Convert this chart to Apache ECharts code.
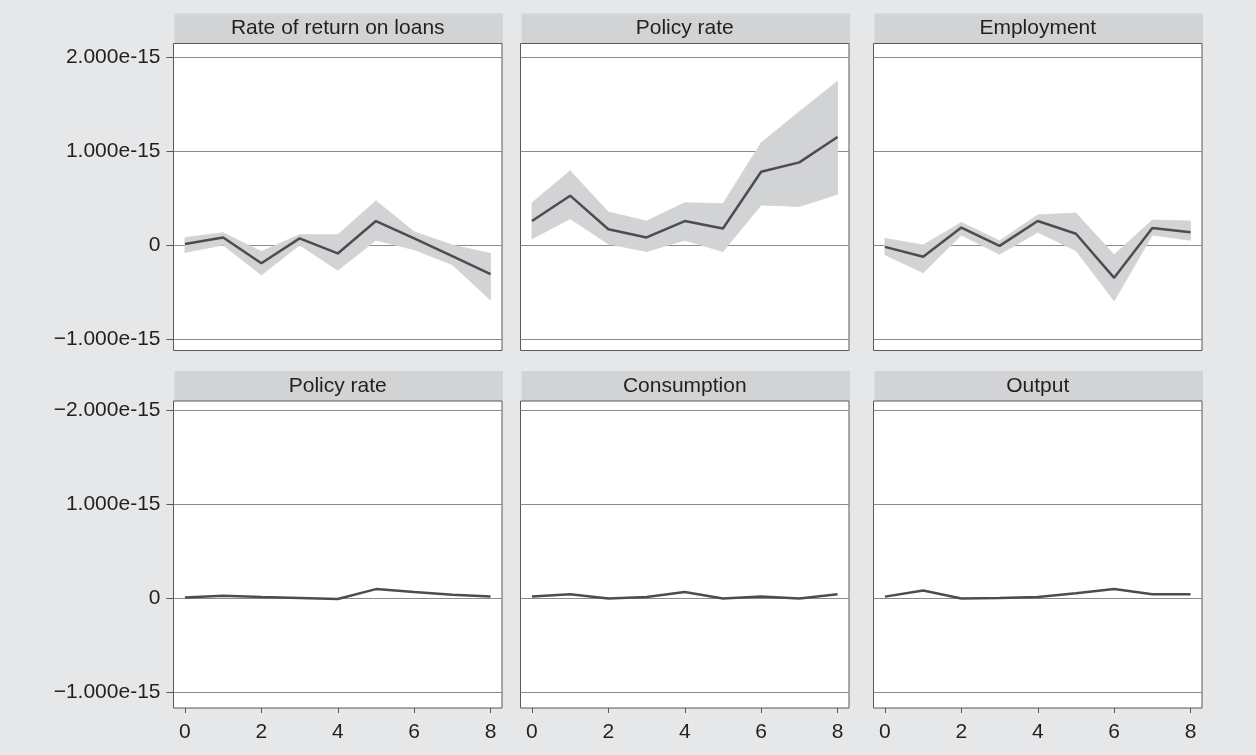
<!DOCTYPE html>
<html><head><meta charset="utf-8">
<script src="https://cdn.jsdelivr.net/npm/echarts@6/dist/echarts.min.js"></script>
<style>html,body{margin:0;padding:0;background:#e6e7e8}#c{width:1256px;height:755px}</style>
</head><body><div id="c"></div>
<script>
// ---------- DATA (values in units of 1e-15) ----------
const horizons = [0, 1, 2, 3, 4, 5, 6, 7, 8];
const panelTitles = ['Rate of return on loans', 'Policy rate', 'Employment', 'Policy rate', 'Consumption', 'Output'];
const yTickValues = [-1, 0, 1, 2];
const yTickLabelsTop = ['\u22121.000e-15', '0', '1.000e-15', '2.000e-15'];
const yTickLabelsBottom = ['\u22121.000e-15', '0', '1.000e-15', '\u22122.000e-15'];
const xTickValues = [0, 2, 4, 6, 8];

const loansMid  = [0.01, 0.08, -0.195, 0.07, -0.09, 0.255, 0.07, -0.12, -0.31];
const loansLow  = [-0.08, 0.0, -0.32, 0.0, -0.27, 0.05, -0.05, -0.21, -0.585];
const loansHigh = [0.08, 0.13, -0.07, 0.11, 0.11, 0.47, 0.14, 0.0, -0.09];

const policyMid  = [0.255, 0.525, 0.167, 0.08, 0.255, 0.175, 0.78, 0.88, 1.15];
const policyLow  = [0.065, 0.28, 0.01, -0.07, 0.05, -0.07, 0.425, 0.41, 0.54];
const policyHigh = [0.45, 0.79, 0.35, 0.255, 0.45, 0.44, 1.09, 1.42, 1.745];

const emplMid  = [-0.02, -0.125, 0.185, -0.01, 0.255, 0.12, -0.35, 0.18, 0.135];
const emplLow  = [-0.105, -0.295, 0.105, -0.1, 0.135, -0.06, -0.595, 0.105, 0.05];
const emplHigh = [0.07, 0.0, 0.24, 0.045, 0.32, 0.34, -0.105, 0.265, 0.255];

const policy2Mid     = [0.01, 0.03, 0.015, 0.005, -0.005, 0.10, 0.068, 0.04, 0.02];
const consumptionMid = [0.02, 0.045, 0.0, 0.015, 0.07, 0.0, 0.02, 0.0, 0.045];
const outputMid      = [0.02, 0.085, 0.0, 0.005, 0.015, 0.055, 0.10, 0.045, 0.045];

const panels = [
  { mid: loansMid, low: loansLow, high: loansHigh },
  { mid: policyMid, low: policyLow, high: policyHigh },
  { mid: emplMid, low: emplLow, high: emplHigh },
  { mid: policy2Mid },
  { mid: consumptionMid },
  { mid: outputMid }
];

// ---------- LAYOUT ----------
const colLefts = [173.5, 520.5, 873.5];
const plotW = 328.5;
const rowTops = [43.5, 401];
const plotH = 307;
const stripH = 30;
const rowYRange = [[-1.124, 2.146], [-1.166, 2.103]];
const FONT = 'Liberation Sans, Arial, Helvetica, sans-serif';
const TXT = '#231f20';
const BORDER = '#58595b';
const GRIDC = '#8a8b8d';
const BAND = '#d1d3d4';
const LINE = '#4d4d4f';

const grids = [], xAxes = [], yAxes = [], series = [], graphics = [];
panels.forEach((p, i) => {
  const row = Math.floor(i / 3), col = i % 3;
  const left = colLefts[col], top = rowTops[row];
  grids.push({ left, top, width: plotW, height: plotH, show: true, backgroundColor: '#ffffff',
    borderColor: BORDER, borderWidth: 1 });
  xAxes.push({
    type: 'value', gridIndex: i, min: -0.3, max: 8.3, position: 'bottom',
    axisLine: { show: false, onZero: false }, splitLine: { show: false },
    axisTick: { show: row === 1, customValues: xTickValues, length: 5, lineStyle: { color: BORDER } },
    axisLabel: { show: row === 1, customValues: xTickValues, margin: 14, fontSize: 21, color: TXT, fontFamily: FONT }
  });
  const labels = row === 0 ? yTickLabelsTop : yTickLabelsBottom;
  yAxes.push({
    type: 'value', gridIndex: i, min: rowYRange[row][0], max: rowYRange[row][1], position: 'left',
    axisLine: { show: false, onZero: false },
    axisTick: { show: col === 0, customValues: yTickValues, length: 7, lineStyle: { color: BORDER } },
    axisLabel: { show: col === 0, customValues: yTickValues, margin: 13, fontSize: 21, color: TXT, fontFamily: FONT,
      formatter: v => { const k = yTickValues.findIndex(t => Math.abs(t - v) < 1e-9); return k >= 0 ? labels[k] : ''; } },
    splitLine: { show: true, lineStyle: { color: GRIDC, width: 1 } }
  });
  if (p.low) {
    // confidence band: one quadrilateral per horizon step, positioned via the axes
    const segs = horizons.slice(0, -1).map((h, k) =>
      [h, p.low[k], p.high[k], horizons[k + 1], p.low[k + 1], p.high[k + 1]]);
    series.push({
      type: 'custom', xAxisIndex: i, yAxisIndex: i, silent: true, z: 2,
      data: segs,
      renderItem: (params, api) => {
        const a = api.coord([api.value(0), api.value(2)]);
        const b = api.coord([api.value(3), api.value(5)]);
        const c = api.coord([api.value(3), api.value(4)]);
        const d = api.coord([api.value(0), api.value(1)]);
        return { type: 'polygon', shape: { points: [a, b, c, d] },
          style: { fill: BAND, stroke: BAND, lineWidth: 0.8 } };
      },
      encode: { x: [0, 3], y: [1, 2, 4, 5] }
    });
  }
  series.push({ type: 'line', xAxisIndex: i, yAxisIndex: i, symbol: 'none', silent: true,
    lineStyle: { color: LINE, width: 2.5 }, z: 5,
    data: horizons.map((h, k) => [h, p.mid[k]]) });
  graphics.push({ type: 'rect', shape: { x: left + 1, y: top - stripH, width: plotW, height: stripH },
    style: { fill: BAND }, z: -1 });
  graphics.push({ type: 'text', x: left + plotW / 2, y: top - stripH / 2,
    style: { text: panelTitles[i], fill: TXT, font: '21px ' + FONT, textAlign: 'center', textVerticalAlign: 'middle' } });
});

const chart = echarts.init(document.getElementById('c'), null, { renderer: 'canvas' });
chart.setOption({
  animation: false,
  backgroundColor: '#e6e7e8',
  grid: grids, xAxis: xAxes, yAxis: yAxes, series, graphic: graphics
});
</script></body></html>
